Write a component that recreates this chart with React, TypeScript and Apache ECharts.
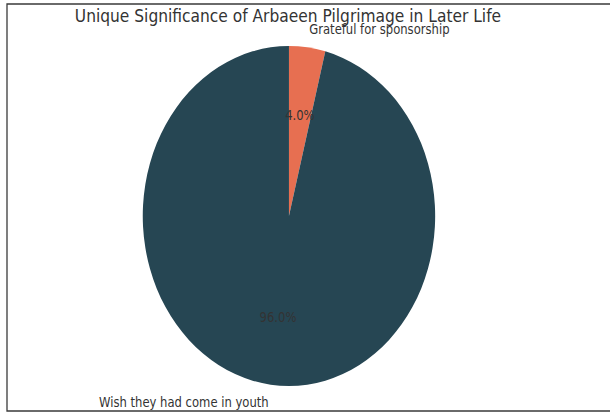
import React, { useEffect, useRef } from "react";
import * as echarts from "echarts";

// Survey answers and their shares (percent)
const categories = ["Grateful for sponsorship", "Wish they had come in youth"];
const values = [4, 96];
const sliceColors = ["#e76f51", "#264653"];
const chartTitle = "Unique Significance of Arbaeen Pilgrimage in Later Life";

// The figure is drawn on a wider canvas and squeezed horizontally,
// which turns the round pie into the tall ellipse of the final figure.
const SQUEEZE = 0.86;
const PAGE_W = 610;
const PAGE_H = 414;
const INNER_W = Math.ceil(PAGE_W / SQUEEZE);
const CX = 336;
const CY = 216;
const R = 170;
const FONT = "DejaVu Sans";
const TEXT_COLOR = "#333333";

export default function App() {
  const ref = useRef<HTMLDivElement>(null);

  useEffect(() => {
    if (!ref.current) return;
    const chart = echarts.init(ref.current, undefined, { renderer: "svg" });

    const data = categories.map((name, i) => ({
      name,
      value: values[i],
      itemStyle: { color: sliceColors[i] },
    }));

    chart.setOption({
      animation: false,
      backgroundColor: "#ffffff",
      title: {
        text: chartTitle,
        left: CX - 249,
        top: 7,
        padding: 0,
        textStyle: {
          fontFamily: FONT,
          fontSize: 18,
          fontWeight: "normal",
          color: TEXT_COLOR,
        },
      },
      graphic: [
        {
          type: "rect",
          silent: true,
          shape: { x: 7 / SQUEEZE, y: 4, width: INNER_W + 20, height: 407 },
          style: { fill: "none", stroke: "#3a3a3a", lineWidth: 1.5 },
        },
      ],
      series: [
        {
          type: "pie",
          center: [CX, CY],
          radius: R,
          startAngle: 90,
          clockwise: true,
          avoidLabelOverlap: false,
          silent: true,
          itemStyle: { borderWidth: 0 },
          label: {
            show: true,
            position: "outside",
            formatter: "{b}",
            fontFamily: FONT,
            fontSize: 13.5,
            color: TEXT_COLOR,
            distanceToLabelLine: 0,
            overflow: "none",
          },
          labelLine: { show: false, length: R * 0.1 + 1, length2: 0 },
          emphasis: { disabled: true },
          data,
        },
        {
          // transparent ring that carries the percentage labels near 0.6 r
          type: "pie",
          center: [CX, CY],
          radius: [R * 0.16, R],
          startAngle: 90,
          clockwise: true,
          silent: true,
          itemStyle: { color: "rgba(0,0,0,0)", borderWidth: 0 },
          label: {
            show: true,
            position: "inside",
            formatter: (p: any) => `${Number(p.percent).toFixed(1)}%`,
            fontFamily: FONT,
            fontSize: 13.5,
            color: TEXT_COLOR,
          },
          labelLine: { show: false },
          emphasis: { disabled: true },
          data: categories.map((name, i) => ({ name, value: values[i] })),
        },
      ],
    });

    return () => chart.dispose();
  }, []);

  return (
    <div
      style={{
        position: "absolute",
        left: 0,
        top: 0,
        width: PAGE_W,
        height: PAGE_H,
        overflow: "hidden",
        background: "#ffffff",
      }}
    >
      <div
        ref={ref}
        style={{
          width: INNER_W,
          height: PAGE_H,
          transform: `scaleX(${SQUEEZE})`,
          transformOrigin: "0 0",
        }}
      />
    </div>
  );
}
